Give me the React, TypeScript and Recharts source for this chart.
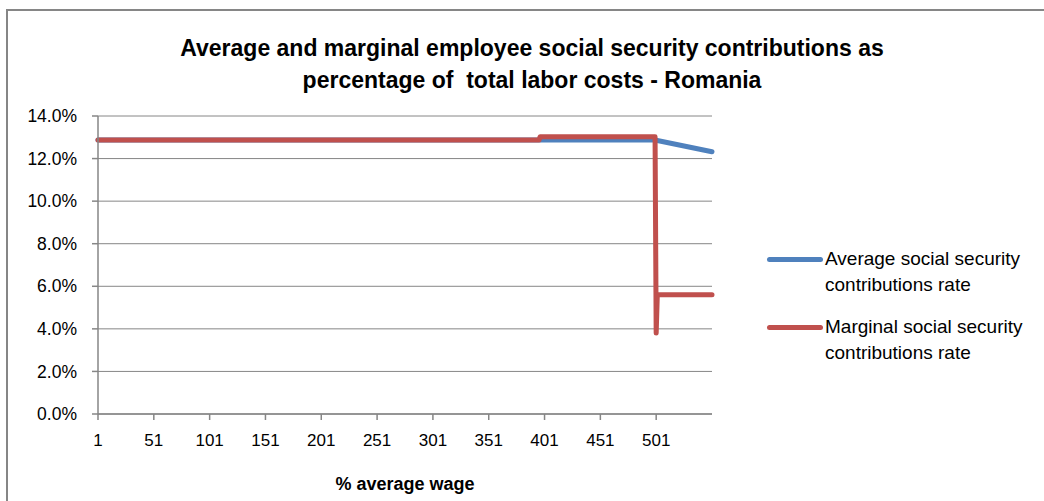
import { CartesianGrid, Line, LineChart, XAxis, YAxis } from "recharts";

// % of average wage (x) and the two rates (%)
const wages = [1, 396, 397, 500, 501, 502, 551];
const averageRate = [12.87, 12.87, 12.87, 12.87, 12.86, 12.85, 12.32];
const marginalRate = [12.87, 12.87, 13.02, 13.02, 3.8, 5.6, 5.6];

const xTicks = [1, 51, 101, 151, 201, 251, 301, 351, 401, 451, 501];
const yTicks = [0, 2, 4, 6, 8, 10, 12, 14];

const titleLines = [
    "Average and marginal employee social security contributions as",
    "percentage of  total labor costs - Romania",
];
const xLabel = "% average wage";

const series = [
    { key: "average", name: ["Average social security", "contributions rate"], color: "#4F81BD" },
    { key: "marginal", name: ["Marginal social security", "contributions rate"], color: "#C0504D" },
];

const data = wages.map((w, i) => ({
    wage: w,
    average: averageRate[i],
    marginal: marginalRate[i],
}));

const FONT = "'Liberation Sans', Arial, sans-serif";
const GREY = "#868686";

const App = () => {
    return (
        <div style={{ position: "absolute", left: 0, top: 0, width: 1044, height: 501, fontFamily: FONT, color: "#000" }}>
            {/* chart frame */}
            <div style={{ position: "absolute", left: 6, top: 9, width: 1040, height: 494, borderTop: `2px solid ${GREY}`, borderLeft: `2px solid ${GREY}` }} />

            <div style={{ position: "absolute", left: 0, width: 1064, top: 32, textAlign: "center", fontWeight: "bold", fontSize: 23, lineHeight: "32px", whiteSpace: "pre" }}>
                {titleLines.map((t, i) => <div key={i}>{t}</div>)}
            </div>

            <div style={{ position: "absolute", left: 0, top: 0 }}>
                <LineChart width={1044} height={501} data={data} margin={{ top: 116, right: 332, bottom: 57, left: 38 }}>
                    <CartesianGrid vertical={false} stroke={GREY} strokeWidth={1} />
                    <XAxis
                        dataKey="wage"
                        type="number"
                        domain={[1, 551]}
                        ticks={xTicks}
                        interval={0}
                        height={30}
                        tickSize={6}
                        tickMargin={14}
                        stroke={GREY}
                        tick={{ fill: "#000", fontSize: 17, fontFamily: FONT }}
                        axisLine={{ stroke: GREY, strokeWidth: 1.5 }}
                        tickLine={{ stroke: GREY, strokeWidth: 1.5 }}
                    />
                    <YAxis
                        type="number"
                        domain={[0, 14]}
                        ticks={yTicks}
                        width={60}
                        tickSize={6}
                        tickMargin={15}
                        tickFormatter={(v: number) => v.toFixed(1) + "%"}
                        tick={{ fill: "#000", fontSize: 17.5, fontFamily: FONT }}
                        axisLine={{ stroke: GREY, strokeWidth: 1.5 }}
                        tickLine={{ stroke: GREY, strokeWidth: 1.5 }}
                    />
                    {series.map((s) => (
                        <Line
                            key={s.key}
                            type="linear"
                            dataKey={s.key}
                            stroke={s.color}
                            strokeWidth={5}
                            strokeLinecap="round"
                            strokeLinejoin="round"
                            dot={false}
                            activeDot={false}
                            isAnimationActive={false}
                        />
                    ))}
                </LineChart>
            </div>

            <div style={{ position: "absolute", left: 98, width: 614, top: 474, textAlign: "center", fontWeight: "bold", fontSize: 18 }}>
                {xLabel}
            </div>

            {/* legend */}
            {series.map((s, i) => (
                <div key={s.key} style={{ position: "absolute", left: 767, top: 246 + i * 68, fontSize: 19, lineHeight: "26px" }}>
                    <div style={{ position: "absolute", left: 0, top: 11, width: 56, height: 5, borderRadius: 3, background: s.color }} />
                    <div style={{ position: "absolute", left: 58, top: 0, whiteSpace: "nowrap" }}>
                        {s.name.map((n, j) => <div key={j}>{n}</div>)}
                    </div>
                </div>
            ))}
        </div>
    );
};

export default App;
